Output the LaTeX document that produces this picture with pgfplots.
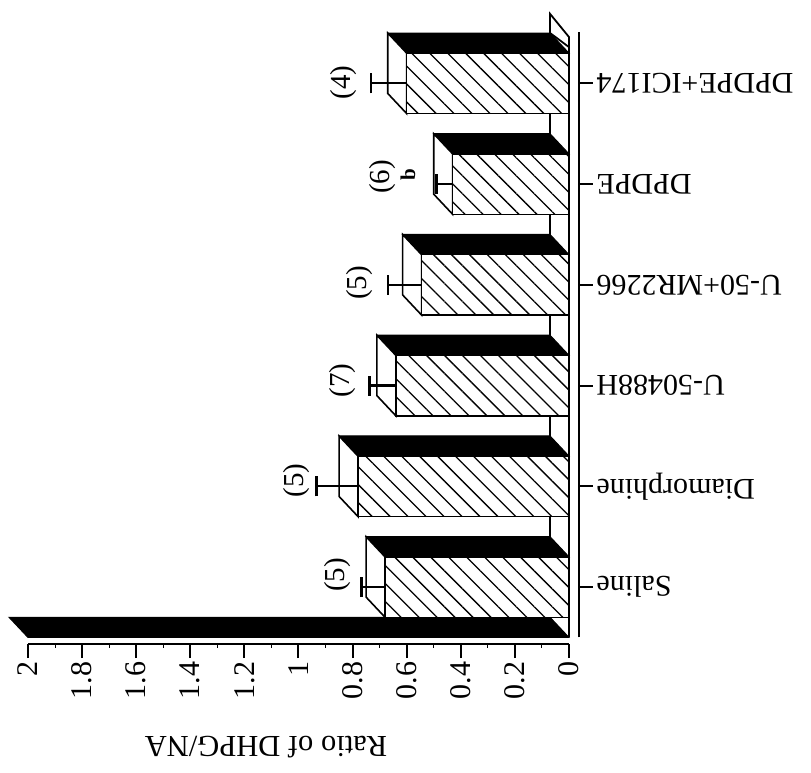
\documentclass[border=0pt]{standalone}
\usepackage{pgfplots}
\pgfplotsset{compat=1.18}
\usepackage{fontspec}
\setmainfont{Liberation Serif}
\usetikzlibrary{patterns.meta}
\begin{document}
\begin{tikzpicture}
\useasboundingbox (-28pt,-129pt) rectangle (783pt,644pt);
\begin{axis}[
  at={(0,0)}, anchor=south west,
  scale only axis, width=551pt, height=612pt,
  x dir=reverse,
  xmin=-0.037, xmax=2,
  ymin=-0.565, ymax=5.51,
  clip=false,
  axis x line*=bottom,
  axis y line*=right,
  axis line style={draw=none},
  xtick={0,0.2,0.4,0.6,0.8,1,1.2,1.4,1.6,1.8,2},
  xticklabels={0,0.2,0.4,0.6,0.8,1,1.2,1.4,1.6,1.8,2},
  minor x tick num=1,
  ytick={0,1,2,3,4,5},
  yticklabels={Saline,Diamorphine,U-50488H,U-50+MR2266,DPDPE,DPDPE+ICI174},
  tick align=outside,
  major tick length=14pt,
  minor tick length=4pt,
  tick style={black, line width=2pt},
  minor tick style={line width=1pt},
  xticklabel style={rotate=90, anchor=east, font=\fontsize{30}{32}\selectfont},
  yticklabel style={rotate=180, anchor=east, font=\fontsize{30}{32}\selectfont},
  /pgf/number format/assume math mode=true,
]
% axis lines
\addplot[black, line width=2pt] coordinates {(0,-0.565) (2,-0.565)};
\addplot[black, line width=2pt] coordinates {(-0.037,-0.5) (-0.037,5.51)};
% 3D wall (black wedge)
\addplot[fill=black, draw=black, line width=1pt] coordinates {(0,-0.5) (2,-0.5) (2.07,-0.3) (0.07,-0.3)} -- cycle;
% floor edges
\addplot[black, line width=1.6pt] coordinates {(0,-0.5) (0,5.36)};
\addplot[black, line width=1.6pt] coordinates {(0.07,-0.3) (0.07,5.5)};
\addplot[fill=white, draw=black, line width=1.8pt] coordinates {(0,5.36) (0,5.46) (0.07,5.69) (0.07,5.5)} -- cycle;
% top faces (black)
\addplot[fill=black, draw=black, line width=1pt] coordinates {(0,0.3) (0.68,0.3) (0.75,0.5) (0.07,0.5)} -- cycle;
\addplot[fill=black, draw=black, line width=1pt] coordinates {(0,1.3) (0.78,1.3) (0.85,1.5) (0.07,1.5)} -- cycle;
\addplot[fill=black, draw=black, line width=1pt] coordinates {(0,2.3) (0.64,2.3) (0.71,2.5) (0.07,2.5)} -- cycle;
\addplot[fill=black, draw=black, line width=1pt] coordinates {(0,3.3) (0.545,3.3) (0.615,3.5) (0.07,3.5)} -- cycle;
\addplot[fill=black, draw=black, line width=1pt] coordinates {(0,4.3) (0.43,4.3) (0.5,4.5) (0.07,4.5)} -- cycle;
\addplot[fill=black, draw=black, line width=1pt] coordinates {(0,5.3) (0.60,5.3) (0.67,5.5) (0.07,5.5)} -- cycle;
% side faces (white)
\addplot[fill=white, draw=black, line width=1.6pt] coordinates {(0.68,-0.3) (0.68,0.3) (0.75,0.5) (0.75,-0.1)} -- cycle;
\addplot[fill=white, draw=black, line width=1.6pt] coordinates {(0.78,0.7) (0.78,1.3) (0.85,1.5) (0.85,0.9)} -- cycle;
\addplot[fill=white, draw=black, line width=1.6pt] coordinates {(0.64,1.7) (0.64,2.3) (0.71,2.5) (0.71,1.9)} -- cycle;
\addplot[fill=white, draw=black, line width=1.6pt] coordinates {(0.545,2.7) (0.545,3.3) (0.615,3.5) (0.615,2.9)} -- cycle;
\addplot[fill=white, draw=black, line width=1.6pt] coordinates {(0.43,3.7) (0.43,4.3) (0.5,4.5) (0.5,3.9)} -- cycle;
\addplot[fill=white, draw=black, line width=1.6pt] coordinates {(0.60,4.7) (0.60,5.3) (0.67,5.5) (0.67,4.9)} -- cycle;
% front faces (hatched bars) with error bars
\addplot[xbar, bar width=0.6, fill=white, draw=black, line width=1.6pt,
  postaction={pattern={Lines[angle=-45,distance=12.7pt,line width=1.3pt]}},
  error bars/.cd, x dir=plus, x explicit,
  error bar style={line width=2.2pt, solid},
  error mark options={line width=2.4pt, mark size=10pt, rotate=90}]
  coordinates {
  (0.68,0) +- (0.087,0)
  (0.78,1) +- (0.153,0)
  (0.64,2) +- (0.097,0)
  (0.545,3) +- (0.125,0)
  (0.43,4) +- (0.06,0)
  (0.60,5) +- (0.133,0)
  };
% n annotations
\node[rotate=90, font=\fontsize{29}{31}\selectfont] at (axis cs:0.854,0.12) {(5)};
\node[rotate=90, font=\fontsize{29}{31}\selectfont] at (axis cs:1.006,1.06) {(5)};
\node[rotate=90, font=\fontsize{29}{31}\selectfont] at (axis cs:0.839,2.05) {(7)};
\node[rotate=90, font=\fontsize{29}{31}\selectfont] at (axis cs:0.773,3.02) {(5)};
\node[rotate=90, font=\fontsize{29}{31}\selectfont] at (axis cs:0.688,4.07) {(6)};
\node[rotate=90, font=\bfseries\fontsize{21}{23}\selectfont] at (axis cs:0.595,4.09) {b};
\node[rotate=90, font=\fontsize{29}{31}\selectfont] at (axis cs:0.835,5.01) {(4)};
\end{axis}
\node[rotate=180, font=\fontsize{30.5}{33}\selectfont] at (238pt,-103pt) {Ratio of DHPG/NA};
\end{tikzpicture}
\end{document}
